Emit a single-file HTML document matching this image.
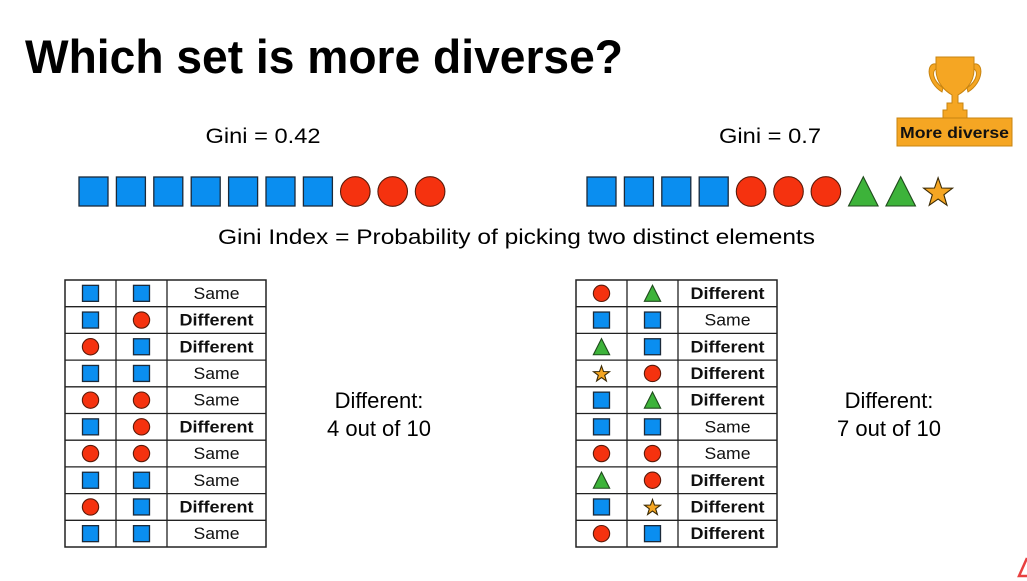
<!DOCTYPE html>
<html><head><meta charset="utf-8">
<style>
html,body{margin:0;padding:0;background:#fff;}
svg{display:block;font-family:"Liberation Sans",Arial,sans-serif;}
</style></head>
<body>
<svg id="s" width="1027" height="581" viewBox="0 0 1027 581" xmlns="http://www.w3.org/2000/svg">
  <rect width="1027" height="581" fill="#fff"/>
  <text x="25" y="73" font-size="47" font-weight="bold" textLength="598" lengthAdjust="spacingAndGlyphs">Which set is more diverse?</text>
  <text x="263" y="143" font-size="21" text-anchor="middle" textLength="115" lengthAdjust="spacingAndGlyphs">Gini = 0.42</text>
  <text x="770" y="143" font-size="21" text-anchor="middle" textLength="102" lengthAdjust="spacingAndGlyphs">Gini = 0.7</text>
  <text x="218" y="244" font-size="21" textLength="597" lengthAdjust="spacingAndGlyphs">Gini Index = Probability of picking two distinct elements</text>
  <text x="379" y="408" font-size="22" text-anchor="middle">Different:</text>
  <text x="379" y="436" font-size="22" text-anchor="middle">4 out of 10</text>
  <text x="889" y="408" font-size="22" text-anchor="middle">Different:</text>
  <text x="889" y="436" font-size="22" text-anchor="middle">7 out of 10</text>
  <g>
    <path d="M936,64 C926,62 926,82 942,92 L943,88 C932,80 931,70 938,68 Z M974,64 C984,62 984,82 968,92 L967,88 C978,80 979,70 972,68 Z" fill="#F5A623" stroke="#C88410" stroke-width="1"/>
    <path d="M936,57 L974,57 L974,70 C974,84 963,92 958,95 L958,103 L963,103 L963,110 L967,110 L967,118 L943,118 L943,110 L947,110 L947,103 L952,103 L952,95 C947,92 936,84 936,70 Z" fill="#F5A623" stroke="#C88410" stroke-width="1"/>
  </g>
  <rect x="897" y="118" width="115" height="28" fill="#F5A623" stroke="#C88410" stroke-width="1"/>
  <text x="954.5" y="138" font-size="16" font-weight="bold" text-anchor="middle" fill="#111" textLength="109" lengthAdjust="spacingAndGlyphs">More diverse</text>
</svg>
<script>
const leftSet = ['s','s','s','s','s','s','s','c','c','c'];
const rightSet = ['s','s','s','s','c','c','c','t','t','a'];
const leftPairs = [['s','s'],['s','c'],['c','s'],['s','s'],['c','c'],['s','c'],['c','c'],['s','s'],['c','s'],['s','s']];
const rightPairs = [['c','t'],['s','s'],['t','s'],['a','c'],['s','t'],['s','s'],['c','c'],['t','c'],['s','a'],['c','s']];
const leftLabels = ['Same','Different','Different','Same','Same','Different','Same','Same','Different','Same'];
const rightLabels = ['Different','Same','Different','Different','Different','Same','Same','Different','Different','Different'];

const NS='http://www.w3.org/2000/svg';
const svg=document.getElementById('s');
function mk(tag,attrs,parent){const e=document.createElementNS(NS,tag);for(const k in attrs)e.setAttribute(k,attrs[k]);(parent||svg).appendChild(e);return e;}
function shape(type,cx,cy,size,parent){
  const h=size/2;let e;
  if(type==='s'){e=mk('rect',{x:cx-h,y:cy-h,width:size,height:size,fill:'#0A8EF0',stroke:'#1b2a3a','stroke-width':1.3},parent);}
  else if(type==='c'){e=mk('circle',{cx:cx,cy:cy,r:h*1.02,fill:'#F5320F',stroke:'#5a1a0a','stroke-width':1.1},parent);}
  else if(type==='t'){e=mk('polygon',{points:`${cx},${cy-h*1.02} ${cx+h*1.02},${cy+h} ${cx-h*1.02},${cy+h}`,fill:'#3DB33A',stroke:'#1f4a1c','stroke-width':1.1},parent);}
  else {let p=[];for(let i=0;i<10;i++){const r=i%2?h*0.42:h*1.05;const a=-Math.PI/2+i*Math.PI/5;p.push((cx+r*Math.cos(a)).toFixed(1)+','+(cy+h*0.1+r*Math.sin(a)).toFixed(1));}
    e=mk('polygon',{points:p.join(' '),fill:'#F5A623',stroke:'#3a2a05','stroke-width':1.1},parent);}
  return e;
}
function drawSet(arr,x0,name){
  const g=mk('g',{});
  
  
  arr.forEach((t,i)=>{const e=shape(t,x0+i*37.4,191.5,29,g);
    
    });
}
drawSet(leftSet,93.5,'left-set');
drawSet(rightSet,601.5,'right-set');

function drawTable(pairs,labels,x0,name){
  const g=mk('g',{});
  
  
  const top=280,bot=547,n=pairs.length,rh=(bot-top)/n;
  const cols=[x0,x0+51,x0+102,x0+201];
  mk('rect',{x:cols[0],y:top,width:cols[3]-cols[0],height:bot-top,fill:'#fff',stroke:'#222','stroke-width':1.5},g);
  for(let i=1;i<n;i++)mk('line',{x1:cols[0],x2:cols[3],y1:top+i*rh,y2:top+i*rh,stroke:'#222','stroke-width':1.3},g);
  [1,2].forEach(c=>mk('line',{x1:cols[c],x2:cols[c],y1:top,y2:bot,stroke:'#222','stroke-width':1.3},g));
  pairs.forEach((p,i)=>{
    const cy=top+i*rh+rh/2;
    const a=shape(p[0],(cols[0]+cols[1])/2,cy,16,g);
    
    
    const b=shape(p[1],(cols[1]+cols[2])/2,cy,16,g);
    
    
    const d=labels[i]==='Different';
    const t=mk('text',{x:(cols[2]+cols[3])/2,y:cy+5.5,'font-size':16.5,'text-anchor':'middle','font-weight':d?'bold':'normal',fill:'#111',textLength:d?74:46,lengthAdjust:'spacingAndGlyphs'},g);
    t.textContent=labels[i];
    
    
  });
}
drawTable(leftPairs,leftLabels,65,'left-pairs-table');
drawTable(rightPairs,rightLabels,576,'right-pairs-table');

const m=mk('path',{d:'M1027,558 L1019,576 L1027,576',fill:'none',stroke:'#E84040','stroke-width':2.5});


</script>
</body></html>
